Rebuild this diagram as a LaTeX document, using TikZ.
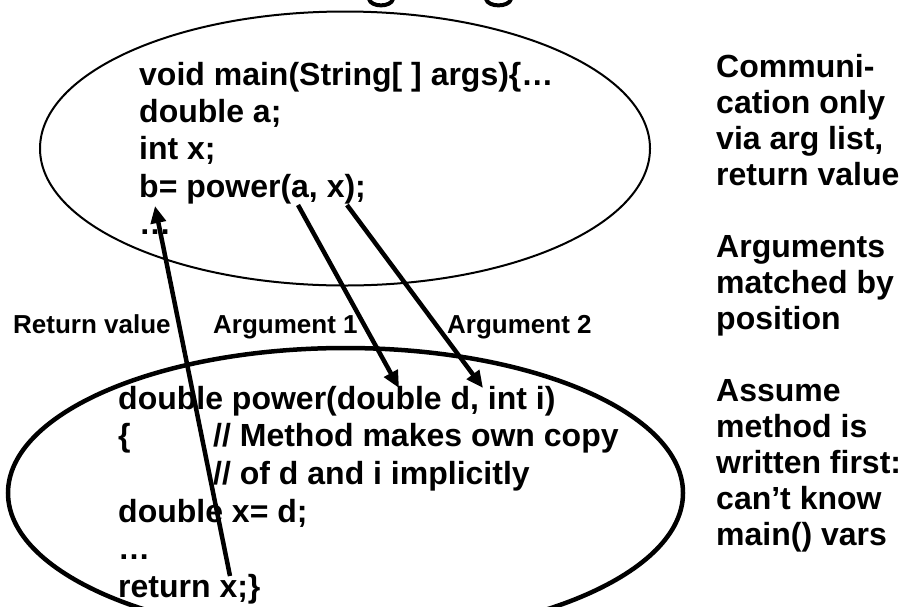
\documentclass[tikz,border=0pt]{standalone}
\usepackage{fontspec}
\setmainfont{Liberation Sans}
\usetikzlibrary{arrows.meta,shapes.geometric}
\begin{document}
\begin{tikzpicture}[x=1pt,y=-1pt,
  code/.style={anchor=base west, inner sep=0pt, font=\bfseries\fontsize{32}{36}\selectfont},
  lbl/.style={anchor=base west, inner sep=0pt, font=\bfseries\fontsize{26}{30}\selectfont},
  oval/.style={draw, ellipse, inner sep=0pt},
  arr/.style={line width=4.5pt, -{Triangle[length=17pt,width=15pt]}},
  ]
\useasboundingbox (0,0) rectangle (904,606);
\clip (0,0) rectangle (904,606);

% cut-off title descenders
\draw[line width=4pt] (369,-1) .. controls (371,7.5) and (391,7.5) .. (393,-1);
\draw[line width=4pt] (486,-1) .. controls (488,7.5) and (509,7.5) .. (511,-1);

% ellipses
\node[oval, line width=2pt, minimum width=610pt, minimum height=274pt] (mainE) at (345,148.5) {};
\node[oval, line width=4.5pt, minimum width=675pt, minimum height=290pt] (powE) at (345.5,493) {};

% main code
\node[code] (m1) at (139,85) {void main(String[ ] args)\{…};
\node[code] (m2) at (139,122) {double a;};
\node[code] (m3) at (139,159) {int x;};
\node[code] (m4) at (139,197) {b= power(a, x);};
\node[code] (m5) at (139,234) {…};

% method code
\node[code] (p1) at (118,409) {double power(double d, int i)};
\node[code] (p2a) at (118,446.5) {\{};
\node[code] (p2b) at (213,446.5) {// Method makes own copy};
\node[code] (p3) at (213,484) {// of d and i implicitly};
\node[code] (p4) at (118,522) {double x= d;};
\node[code] (p5) at (118,559.5) {…};
\node[code] (p6) at (118,597) {return x;\}};

% labels
\node[lbl] (lr) at (13,333) {Return value};
\node[lbl] (la1) at (213,333) {Argument 1};
\node[lbl] (la2) at (447,333) {Argument 2};

% side notes
\node[code] (s1) at (716,77) {Communi-};
\node[code] (s2) at (716,113) {cation only};
\node[code] (s3) at (716,149) {via arg list,};
\node[code] (s4) at (716,185) {return value};
\node[code] (s5) at (716,257) {Arguments};
\node[code] (s6) at (716,293) {matched by};
\node[code] (s7) at (716,329) {position};
\node[code] (s8) at (716,401) {Assume};
\node[code] (s9) at (716,437) {method is};
\node[code] (s10) at (716,473) {written first:};
\node[code] (s11) at (716,509) {can’t know};
\node[code] (s12) at (716,545) {main() vars};

% connector ends
\coordinate (retTail) at (230,576);
\coordinate (retTip) at (155,206);
\coordinate (a1Tail) at (298,205);
\coordinate (a1Tip) at (399,388);
\coordinate (a2Tail) at (347,205);
\coordinate (a2Tip) at (483,388);

\draw[arr] (retTail) -- (retTip);
\draw[arr] (a1Tail) -- (a1Tip);
\draw[arr] (a2Tail) -- (a2Tip);
\end{tikzpicture}
\end{document}
